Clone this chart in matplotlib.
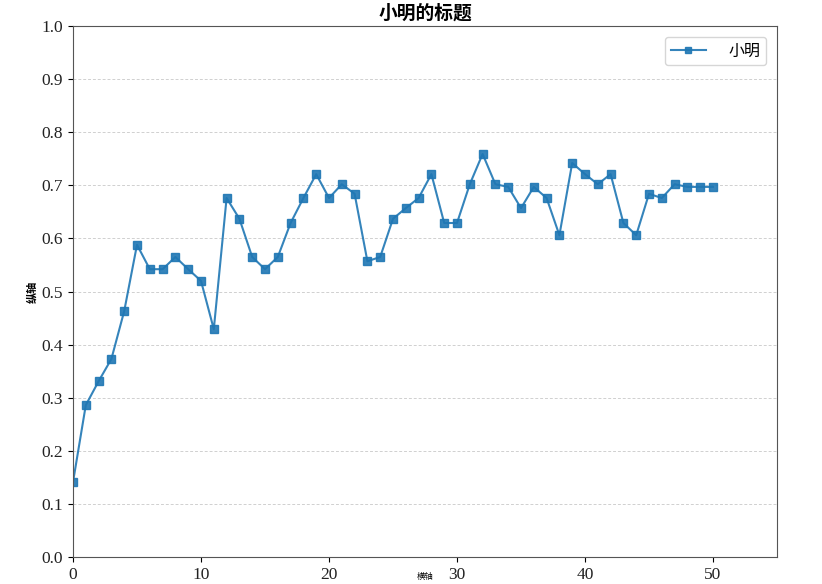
import matplotlib
matplotlib.use("Agg")
import matplotlib.pyplot as plt

# data
x_vals = list(range(51))
y_vals = [0.141, 0.286, 0.331, 0.373, 0.463, 0.588, 0.542, 0.542, 0.565, 0.542,
          0.520, 0.429, 0.676, 0.637, 0.565, 0.542, 0.565, 0.629, 0.676, 0.721,
          0.676, 0.702, 0.684, 0.557, 0.565, 0.637, 0.657, 0.676, 0.721, 0.629,
          0.629, 0.702, 0.759, 0.702, 0.697, 0.657, 0.697, 0.676, 0.606, 0.742,
          0.721, 0.702, 0.721, 0.629, 0.606, 0.684, 0.676, 0.702, 0.697, 0.697,
          0.697]
series_name = '小明'
title = '小明的标题'
x_label = '横轴'
y_label = '纵轴'

cjk = ['Noto Sans CJK SC', 'DejaVu Sans']

fig = plt.figure(figsize=(8.22, 5.84), dpi=100)
ax = fig.add_axes([73 / 822, 27 / 584, 704 / 822, 531 / 584])

ax.plot(x_vals, y_vals, marker='s', markersize=6, color='#1f77b4',
        linewidth=1.5, alpha=0.9, label=series_name)

ax.set_xlim(0, 55)
ax.set_ylim(0, 1.0)
ax.set_xticks([0, 10, 20, 30, 40, 50])
ax.set_yticks([i / 10 for i in range(11)])

for lab in ax.get_xticklabels() + ax.get_yticklabels():
    lab.set_family('Liberation Serif')
    lab.set_fontsize(12.5)
    lab.set_color('#222222')

ax.grid(axis='y', linestyle=(0, (3, 2)), color='#d0d0d0', linewidth=0.7)
ax.set_axisbelow(True)
for sp in ax.spines.values():
    sp.set_color('#555555')

ax.set_title(title, family=cjk, fontsize=13.5, fontweight='bold', pad=5)
ax.set_ylabel(y_label, family=cjk, fontsize=8, fontweight='bold', labelpad=2)
# the x label sits at the very bottom edge, squeezed in beside the tick labels
ax.set_xlabel(x_label, family=cjk, fontsize=6, labelpad=-8)

leg = ax.legend(loc='upper right', prop={'family': cjk, 'size': 11.5},
                borderpad=0.35, markerscale=0.8, handletextpad=1.4,
                handlelength=2.2, borderaxespad=0.7)

fig.savefig('out.png', dpi=100)
